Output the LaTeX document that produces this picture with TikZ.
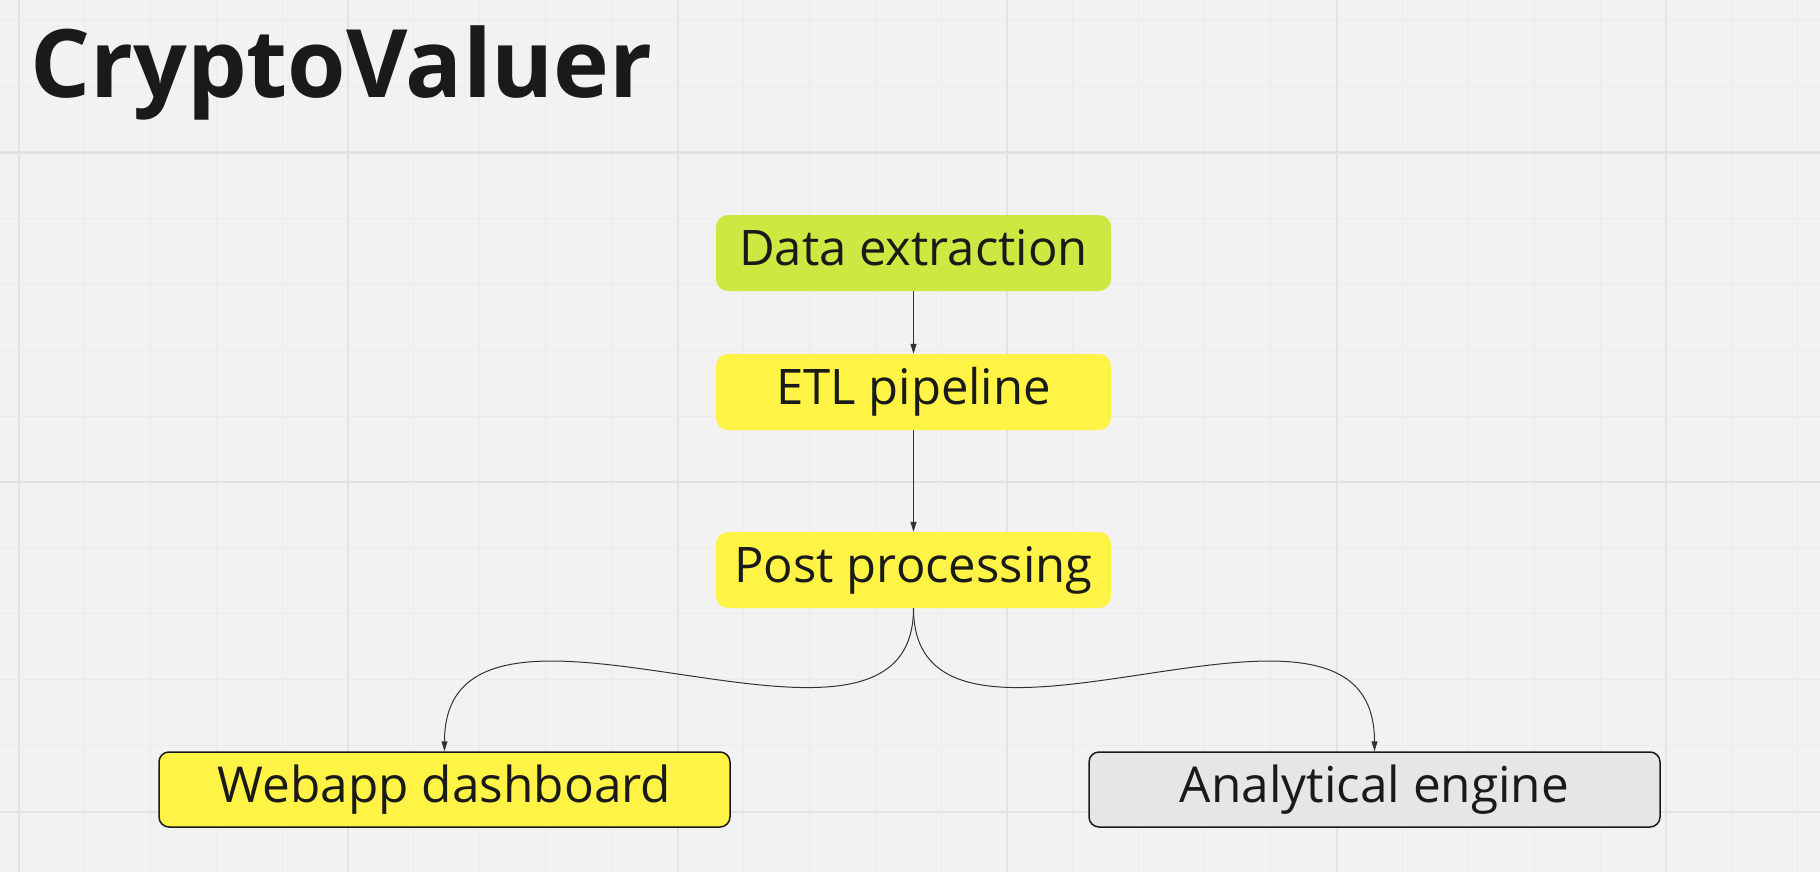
\documentclass[tikz,border=0pt]{standalone}
\usepackage{fontspec}
\setmainfont{Open Sans}
\usetikzlibrary{arrows.meta}
\definecolor{bgc}{HTML}{F2F2F2}
\definecolor{minorc}{HTML}{EBEBEB}
\definecolor{majorc}{HTML}{E2E2E2}
\definecolor{limec}{HTML}{CEE741}
\definecolor{yelc}{HTML}{FFF445}
\definecolor{grayc}{HTML}{E6E6E6}
\definecolor{inkc}{HTML}{1A1A1A}
\definecolor{linec}{HTML}{333333}
\tikzset{
  minorgrid/.style={draw=minorc, line width=1pt},
  majorgrid/.style={draw=majorc, line width=2pt},
  stepbox/.style={rounded corners=12pt, inner sep=0pt, minimum width=395pt, minimum height=76pt,
    text=inkc, font=\fontsize{49}{59}\selectfont, text height=36pt, text depth=11pt},
  outbox/.style={rounded corners=10pt, inner sep=0pt, minimum width=571pt, minimum height=75pt,
    draw=inkc, line width=1.5pt, text=inkc, font=\fontsize{49.5}{59}\selectfont, text height=36pt, text depth=11pt},
  conn/.style={draw=linec, line width=1pt, -{Triangle[length=10pt,width=6pt]}}
}
\begin{document}
\begin{tikzpicture}[x=1pt,y=-1pt]
\useasboundingbox (0,0) rectangle (1820,872);
\fill[bgc] (0,0) rectangle (1820,872);
\foreach \i in {0,...,27} { \draw[minorgrid] ({18.5+65.9*\i},0) -- ++(0,872); }
\foreach \j in {0,...,13} { \draw[minorgrid] (0,{20.7+65.9*\j}) -- ++(1820,0); }
\foreach \i in {0,...,5} { \draw[majorgrid] ({18.5+329.5*\i},0) -- ++(0,872); }
\foreach \j in {0,...,2} { \draw[majorgrid] (0,{152.5+329.5*\j}) -- ++(1820,0); }

\node[anchor=base west, inner sep=0pt, text=inkc, font=\fontsize{94.5}{106}\selectfont\bfseries] (title) at (30,98) {CryptoValuer};

\node[stepbox, fill=limec] (data) at (913.5,253) {Data extraction};
\node[stepbox, fill=yelc] (etl) at (913.5,392) {ETL pipeline};
\node[stepbox, fill=yelc] (post) at (913.5,570) {Post processing};
\node[outbox, fill=yelc] (web) at (444.5,789.5) {Webapp dashboard};
\node[outbox, fill=grayc] (ana) at (1374.5,789.5) {Analytical engine};

\draw[conn] (data.south) -- (etl.north);
\draw[conn] (etl.south) -- (post.north);
\coordinate (c1) at (913.5,810);
\coordinate (c2) at (444.5,538);
\coordinate (c3) at (1374.5,538);
\draw[conn] (post.south) .. controls (c1) and (c2) .. (web.north);
\draw[conn] (post.south) .. controls (c1) and (c3) .. (ana.north);
\end{tikzpicture}
\end{document}
